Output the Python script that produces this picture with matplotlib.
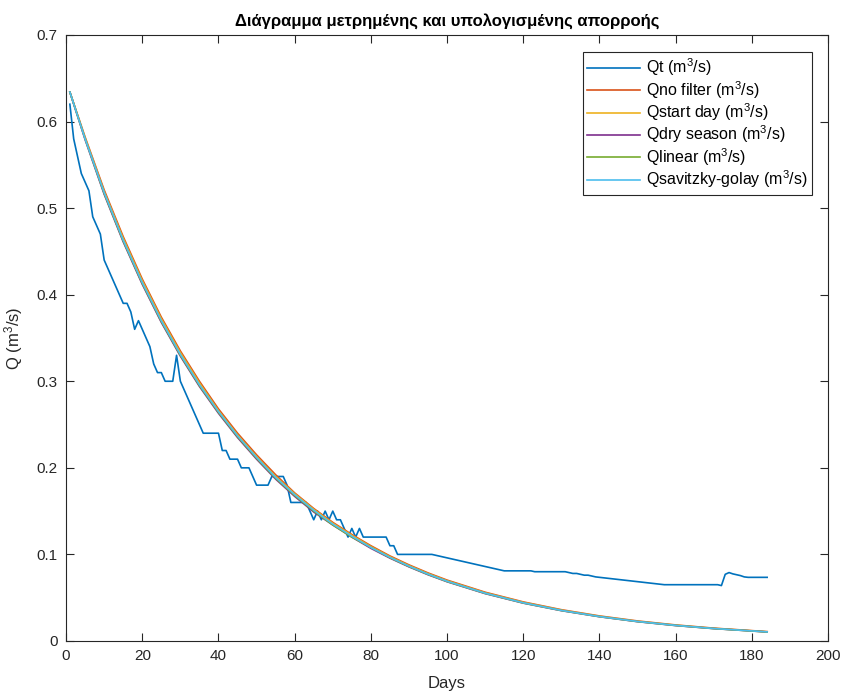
import matplotlib.pyplot as plt
import numpy as np

plt.rcParams['font.family'] = ['Liberation Sans', 'DejaVu Sans']
plt.rcParams['mathtext.default'] = 'regular'

# measured discharge, daily, day 1..184
qt_days = np.arange(1, 185)
qt = [0.62, 0.58, 0.56, 0.54, 0.53, 0.52, 0.49, 0.48, 0.47, 0.44,
      0.43, 0.42, 0.41, 0.40, 0.39, 0.39, 0.38, 0.36, 0.37, 0.36,
      0.35, 0.34, 0.32, 0.31, 0.31, 0.30, 0.30, 0.30, 0.33, 0.30,
      0.29, 0.28, 0.27, 0.26, 0.25, 0.24, 0.24, 0.24, 0.24, 0.24,
      0.22, 0.22, 0.21, 0.21, 0.21, 0.20, 0.20, 0.20, 0.19, 0.18,
      0.18, 0.18, 0.18, 0.19, 0.19, 0.19, 0.19, 0.18, 0.16, 0.16,
      0.16, 0.16, 0.16, 0.15, 0.14, 0.15, 0.14, 0.15, 0.14, 0.15,
      0.14, 0.14, 0.13, 0.12, 0.13, 0.12, 0.13, 0.12, 0.12, 0.12,
      0.12, 0.12, 0.12, 0.12, 0.11, 0.11, 0.10, 0.10, 0.10, 0.10,
      0.10, 0.10, 0.10, 0.10, 0.10, 0.10, 0.099, 0.098, 0.097, 0.096,
      0.095, 0.094, 0.093, 0.092, 0.091, 0.090, 0.089, 0.088, 0.087, 0.086,
      0.085, 0.084, 0.083, 0.082, 0.081, 0.081, 0.081, 0.081, 0.081, 0.081,
      0.081, 0.081, 0.080, 0.080, 0.080, 0.080, 0.080, 0.080, 0.080, 0.080,
      0.080, 0.079, 0.078, 0.078, 0.077, 0.076, 0.076, 0.075, 0.074, 0.0735,
      0.073, 0.0725, 0.072, 0.0715, 0.071, 0.0705, 0.070, 0.0695, 0.069, 0.0685,
      0.068, 0.0675, 0.067, 0.0665, 0.066, 0.0655, 0.065, 0.065, 0.065, 0.065,
      0.065, 0.065, 0.065, 0.065, 0.065, 0.065, 0.065, 0.065, 0.065, 0.065,
      0.065, 0.064, 0.077, 0.079, 0.0775, 0.0765, 0.0755, 0.074, 0.0735, 0.0735,
      0.0735, 0.0735, 0.0735, 0.0735]

# computed recession curves
t_model = [1, 5, 10, 15, 20, 25, 30, 35, 40, 45, 50, 55, 60, 65, 70, 75, 80,
           85, 90, 95, 100, 110, 120, 130, 140, 150, 160, 170, 184]
q_nofilter = [0.634, 0.582, 0.521, 0.467, 0.418, 0.374, 0.335, 0.300, 0.268, 0.240,
              0.215, 0.192, 0.171, 0.153, 0.137, 0.123, 0.110, 0.0982, 0.0879, 0.0786,
              0.0703, 0.0563, 0.0451, 0.0361, 0.0289, 0.0231, 0.0185, 0.0148, 0.0108]
q_startday = [0.634, 0.581, 0.519, 0.465, 0.416, 0.372, 0.333, 0.298, 0.266, 0.238,
              0.213, 0.190, 0.170, 0.152, 0.136, 0.122, 0.109, 0.0973, 0.0870, 0.0778,
              0.0695, 0.0556, 0.0445, 0.0356, 0.0285, 0.0227, 0.0182, 0.0146, 0.0106]
q_dryseason = [0.634, 0.579, 0.516, 0.461, 0.412, 0.368, 0.329, 0.294, 0.263, 0.235,
               0.210, 0.187, 0.167, 0.149, 0.134, 0.120, 0.107, 0.0957, 0.0856, 0.0765,
               0.0684, 0.0547, 0.0437, 0.0350, 0.0280, 0.0223, 0.0178, 0.0143, 0.0104]
q_linear = [0.634, 0.580, 0.517, 0.462, 0.413, 0.369, 0.330, 0.295, 0.264, 0.236,
            0.211, 0.188, 0.168, 0.150, 0.134, 0.120, 0.108, 0.0962, 0.0860, 0.0769,
            0.0687, 0.0550, 0.0439, 0.0352, 0.0281, 0.0224, 0.0179, 0.0143, 0.0104]
q_savgol = [0.634, 0.580, 0.518, 0.463, 0.414, 0.370, 0.331, 0.296, 0.265, 0.237,
            0.212, 0.189, 0.169, 0.151, 0.135, 0.121, 0.108, 0.0966, 0.0864, 0.0772,
            0.0690, 0.0552, 0.0441, 0.0353, 0.0282, 0.0225, 0.0180, 0.0144, 0.0105]

fig = plt.figure(figsize=(8.47, 6.91), dpi=100)
ax = fig.add_axes([0.078, 0.0724, 0.8997, 0.877])

lw = 1.2
ax.plot(qt_days, qt, color='#0072BD', lw=lw, label='Qt (m$^3$/s)')
ax.plot(t_model, q_nofilter, color='#D95319', lw=lw, label='Qno filter (m$^3$/s)')
ax.plot(t_model, q_startday, color='#EDB120', lw=lw, label='Qstart day (m$^3$/s)')
ax.plot(t_model, q_dryseason, color='#7E2F8E', lw=lw, label='Qdry season (m$^3$/s)')
ax.plot(t_model, q_linear, color='#77AC30', lw=lw, label='Qlinear (m$^3$/s)')
ax.plot(t_model, q_savgol, color='#4DBEEE', lw=lw, label='Qsavitzky-golay (m$^3$/s)')

ax.set_xlim(0, 200)
ax.set_ylim(0, 0.7)
ax.set_xticks(np.arange(0, 201, 20))
ax.set_yticks(np.arange(0, 0.71, 0.1))
ax.set_yticklabels(['0', '0.1', '0.2', '0.3', '0.4', '0.5', '0.6', '0.7'])

# MATLAB-like box with inward ticks on all sides
for s in ax.spines.values():
    s.set_color('#262626')
    s.set_linewidth(0.8)
ax.tick_params(direction='in', length=6, width=0.8, top=True, right=True,
               colors='#262626', labelsize=11, pad=6)

ax.set_xlabel('Days', fontsize=12, color='#262626', labelpad=9)
ax.set_ylabel('Q (m$^3$/s)', fontsize=12, color='#262626', labelpad=8)
ax.set_title('Διάγραμμα μετρημένης και υπολογισμένης απορροής',
             fontsize=12, fontweight='bold', pad=7)

leg = ax.legend(loc='upper right', bbox_to_anchor=(0.979, 0.972), borderaxespad=0,
                fontsize=11.5, fancybox=False, framealpha=1,
                edgecolor='#262626', handlelength=3.3,
                labelspacing=0.04, handletextpad=0.35, borderpad=0.3)
leg.get_frame().set_linewidth(0.8)

fig.savefig('out.png', dpi=100)
